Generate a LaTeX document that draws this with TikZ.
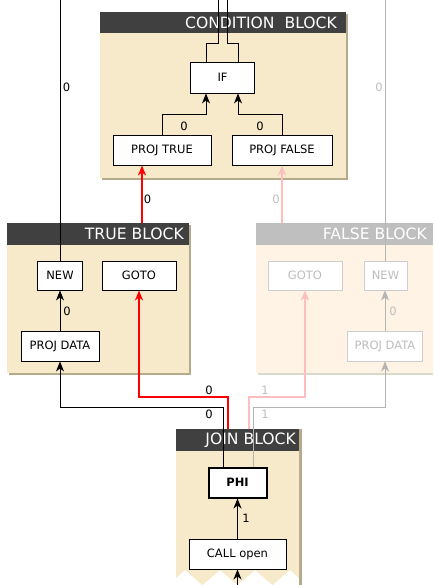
\documentclass[tikz,border=0pt]{standalone}
\usepackage{fontspec}
\setmainfont{DejaVu Sans}
\usetikzlibrary{arrows.meta,calc}

\definecolor{cream}{HTML}{F7EACB}
\definecolor{creamShadow}{HTML}{B5AA8C}
\definecolor{hdrDark}{HTML}{404040}
\definecolor{paleCream}{HTML}{FEF3E4}
\definecolor{paleShadow}{HTML}{DADACB}
\definecolor{hdrPale}{HTML}{BFBFBF}
\definecolor{ghostLine}{HTML}{B4B4B4}
\definecolor{ghostBorder}{HTML}{CDCDCD}
\definecolor{ghostText}{HTML}{BDBDBD}
\definecolor{pinkEdge}{HTML}{FFBEBE}

\begin{document}
\begin{tikzpicture}[x=1pt,y=-1pt,
  op/.style={draw=black, fill=white, line width=0.9pt, inner sep=0pt,
             font=\fontsize{11.5}{12}\selectfont, minimum height=30pt},
  ghostop/.style={op, draw=ghostBorder, text=ghostText},
  tip/.style={-{Stealth[length=10pt,width=8pt,inset=3pt]}},
  flow/.style={line width=0.9pt, black},
  ghostflow/.style={line width=0.9pt, ghostLine},
  redflow/.style={line width=1.8pt, red},
  pinkflow/.style={line width=1.8pt, pinkEdge},
  lbl/.style={font=\fontsize{11.5}{12}\selectfont, inner sep=0pt},
  ghostlbl/.style={lbl, text=ghostText},
  hdr/.style={font=\fontsize{15.6}{16}\selectfont, text=white, anchor=east, inner sep=0pt}]

\useasboundingbox (0,0) rectangle (433,585);

% ---- condition block
\fill[creamShadow] (102,14) rectangle (348,180);
\fill[cream] (100,12) rectangle (346,178);
\fill[hdrDark] (100,12) rectangle (346,33);
\node[hdr] (condHdr) at (337,22.5) {CONDITION\ \ BLOCK};

% ---- true block
\fill[creamShadow] (9,225) rectangle (191,375);
\fill[cream] (7,223) rectangle (189,373);
\fill[hdrDark] (7,223) rectangle (189,245);
\node[hdr] (trueHdr) at (184,234) {TRUE BLOCK};

% ---- false block
\fill[paleShadow] (258,225) rectangle (433,375);
\fill[paleCream] (256,223) rectangle (433,373);
\fill[hdrPale] (256,223) rectangle (433,245);
\node[hdr] (falseHdr) at (427,234) {FALSE BLOCK};

% ---- join block, with a torn lower edge
\fill[creamShadow] (299,429) rectangle (301.5,585);
\fill[cream] (176,451) -- (299,451) -- (299,578) -- (290,570) -- (272.5,585)
  -- (255,570) -- (237.5,585) -- (220,570) -- (202.5,585) -- (185,570)
  -- (176,578) -- cycle;
\fill[hdrDark] (176,429) rectangle (299,451);
\node[hdr] (joinHdr) at (296,440) {JOIN BLOCK};

% ---- operations
\node[op, minimum width=63.6pt, minimum height=31pt] (ifop) at (222.5,77.5) {IF};
\node[op, minimum width=98pt] (projT) at (162,150) {PROJ TRUE};
\node[op, minimum width=100pt] (projF) at (282,150) {PROJ FALSE};

\node[op, minimum width=45pt, minimum height=29pt] (tnew) at (60,275.5) {NEW};
\node[op, minimum width=74pt, minimum height=29pt] (tgoto) at (139,275.5) {GOTO};
\node[op, minimum width=78pt] (tpd) at (60,346) {PROJ DATA};

\node[ghostop, minimum width=74pt, minimum height=29pt] (fgoto) at (305,275.5) {GOTO};
\node[ghostop, minimum width=43pt, minimum height=29pt] (fnew) at (385.5,275.5) {NEW};
\node[ghostop, minimum width=75pt] (fpd) at (385,346) {PROJ DATA};

\node[op, line width=2pt, minimum width=58pt, minimum height=30pt,
      font=\fontsize{11.5}{12}\selectfont\bfseries] (phi) at (237.5,482.5) {PHI};
\node[op, minimum width=97pt] (call) at (237.5,554) {CALL open};

% ---- helper coordinates
\coordinate (top) at (0,0);
\coordinate (bottom) at (0,585);
\coordinate (condRow) at (0,114);
\coordinate (outRow) at (0,43);
\coordinate (rowR) at (0,397);
\coordinate (rowB) at (0,407);
\coordinate (ifOutL) at (218,0);
\coordinate (ifOutR) at (227,0);
\coordinate (ifTopL) at ($(ifop.north)+(-16.5,0)$);
\coordinate (ifTopR) at ($(ifop.north)+(15.5,0)$);
\coordinate (ifBotL) at ($(ifop.south)+(-16.5,0)$);
\coordinate (ifBotR) at ($(ifop.south)+(15.5,0)$);
\coordinate (trueIn) at (142,223);
\coordinate (falseIn) at (282,223);
\coordinate (joinInT) at (228,429);
\coordinate (joinInF) at (249,429);
\coordinate (phiL) at ($(phi.north)+(-14.5,0)$);
\coordinate (phiR) at ($(phi.north)+(15.5,0)$);

% ---- condition block edges
\draw[flow] (ifTopL) -- (ifTopL |- outRow) -| (ifOutL);
\draw[flow] (ifTopR) -- (ifTopR |- outRow) -| (ifOutR);
\draw[flow,tip] (projT.north) -- (projT.north |- condRow) -| (ifBotL);
\draw[flow,tip] (projF.north) -- (projF.north |- condRow) -| (ifBotR);
\node[lbl] (lPT) at (184,126) {0};
\node[lbl] (lPF) at (260,126) {0};

\draw[redflow,tip] (trueIn) -- (trueIn |- projT.south);
\node[lbl] (lTI) at (147.5,199) {0};
\draw[pinkflow,tip] (falseIn) -- (falseIn |- projF.south);
\node[ghostlbl] (lFI) at (276,199) {0};

% ---- true block edges
\draw[flow] (tnew.north) -- (tnew.north |- top);
\node[lbl] (lTN) at (66.5,87) {0};
\draw[flow,tip] (tpd.north) -- (tnew.south);
\node[lbl] (lTD) at (67,311) {0};

% ---- false block edges
\draw[ghostflow] (fnew.north) -- (fnew.north |- top);
\node[ghostlbl] (lFN) at (379,87) {0};
\draw[ghostflow,tip] (fpd.north) -- (fpd.north |- fnew.south);
\node[ghostlbl] (lFD) at (393,311) {0};

% ---- join block inputs
\draw[pinkflow,tip] (joinInF) -- (joinInF |- rowR) -| (fgoto.south);
\draw[ghostflow,tip] (phiR) -- (phiR |- rowB) -| (fpd.south);
\draw[redflow,tip] (joinInT) -- (joinInT |- rowR) -| (tgoto.south);
\draw[flow,tip] (phiL) -- (phiL |- rowB) -| (tpd.south);
\node[lbl] (lJR) at (209,390) {0};
\node[lbl] (lJB) at (209,414) {0};
\node[ghostlbl] (lJP) at (265,390) {1};
\node[ghostlbl] (lJG) at (265,414) {1};

\draw[flow,tip] (call.north) -- (phi.south);
\node[lbl] (lCP) at (246,518) {1};
\draw[flow,tip] (call.south |- bottom) -- (call.south);

\end{tikzpicture}
\end{document}
